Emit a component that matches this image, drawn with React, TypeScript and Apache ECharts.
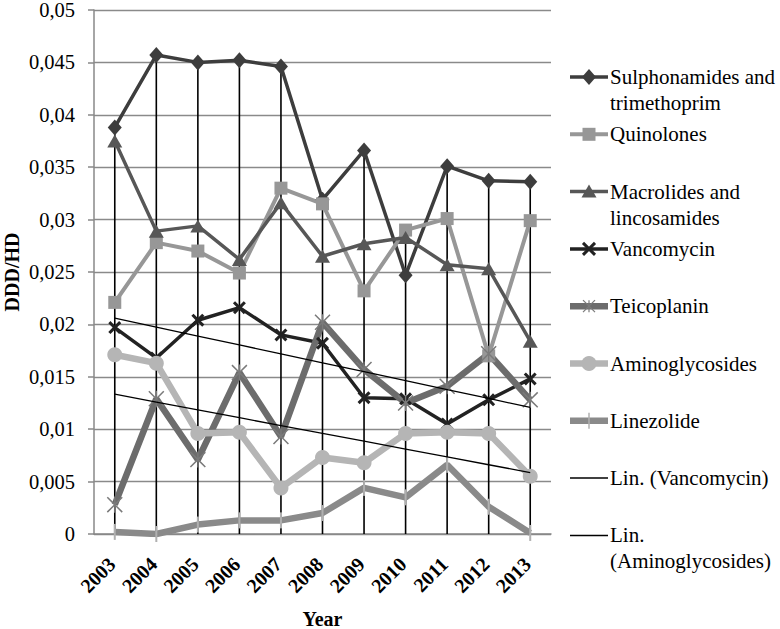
import React, { useEffect, useRef } from "react";
import * as echarts from "echarts";

const years = ["2003", "2004", "2005", "2006", "2007", "2008", "2009", "2010", "2011", "2012", "2013"];
const sulphonamides = [0.0388, 0.0457, 0.045, 0.0452, 0.0446, 0.0319, 0.0366, 0.0247, 0.0351, 0.0337, 0.0336];
const quinolones = [0.0221, 0.0278, 0.027, 0.0249, 0.033, 0.0315, 0.0232, 0.029, 0.0301, 0.017, 0.0299];
const macrolides = [0.0375, 0.0289, 0.0294, 0.0262, 0.0316, 0.0265, 0.0277, 0.0283, 0.0257, 0.0253, 0.0184];
const vancomycin = [0.0197, 0.0168, 0.0204, 0.0216, 0.019, 0.0182, 0.013, 0.0129, 0.0105, 0.0128, 0.0148];
const teicoplanin = [0.0028, 0.0129, 0.0071, 0.0154, 0.0093, 0.0202, 0.0157, 0.0125, 0.0141, 0.0172, 0.0128];
const aminoglycosides = [0.0171, 0.0163, 0.0096, 0.0097, 0.0044, 0.0073, 0.0068, 0.0096, 0.0097, 0.0096, 0.0055];
const linezolide = [0.0002, 0.0, 0.0009, 0.0013, 0.0013, 0.002, 0.0044, 0.0035, 0.0066, 0.0026, 0.0001];

const yTicks = [0, 0.005, 0.01, 0.015, 0.02, 0.025, 0.03, 0.035, 0.04, 0.045, 0.05];

const FONT = "'Liberation Serif', 'Times New Roman', serif";

const X_PATH = "path://M0,2 L2,0 L6,4 L10,0 L12,2 L8,6 L12,10 L10,12 L6,8 L2,12 L0,10 L4,6 Z";
const AST_PATH =
  "path://M0,0.8 L0.8,0 L6,5.2 L11.2,0 L12,0.8 L6.8,6 L12,11.2 L11.2,12 L6,6.8 L0.8,12 L0,11.2 L5.2,6 Z M5.5,0 L6.5,0 L6.5,12 L5.5,12 Z";
const BAR_PATH = "path://M0,0 L2,0 L2,16 L0,16 Z";

function linearTrend(values: number[]): number[] {
  const n = values.length;
  const mx = (n - 1) / 2;
  const my = values.reduce((a, b) => a + b, 0) / n;
  let sxy = 0;
  let sxx = 0;
  values.forEach((v, i) => {
    sxy += (i - mx) * (v - my);
    sxx += (i - mx) * (i - mx);
  });
  const slope = sxy / sxx;
  return values.map((_, i) => my + slope * (i - mx));
}

type Item = {
  name: string;
  label: string;
  data: number[];
  color: string;
  width: number;
  marker: string;
  markerColor?: string;
};

const items: Item[] = [
  { name: "Sulphonamides and trimethoprim", label: "Sulphonamides and\ntrimethoprim", data: sulphonamides, color: "#3d3d3d", width: 3.5, marker: "diamond" },
  { name: "Quinolones", label: "Quinolones", data: quinolones, color: "#979797", width: 4, marker: "rect" },
  { name: "Macrolides and lincosamides", label: "Macrolides and\nlincosamides", data: macrolides, color: "#575757", width: 3.5, marker: "triangle" },
  { name: "Vancomycin", label: "Vancomycin", data: vancomycin, color: "#222222", width: 3.5, marker: "x" },
  { name: "Teicoplanin", label: "Teicoplanin", data: teicoplanin, color: "#6c6c6c", width: 6.5, marker: "asterisk", markerColor: "#7a7a7a" },
  { name: "Aminoglycosides", label: "Aminoglycosides", data: aminoglycosides, color: "#b5b5b5", width: 6.5, marker: "circle" },
  { name: "Linezolide", label: "Linezolide", data: linezolide, color: "#8a8a8a", width: 6.5, marker: "bar", markerColor: "#b0b0b0" },
];

function seriesSymbol(m: string): { symbol: string; symbolSize: number | number[] } {
  switch (m) {
    case "diamond":
      return { symbol: "diamond", symbolSize: [14, 16] };
    case "rect":
      return { symbol: "rect", symbolSize: 13 };
    case "triangle":
      return { symbol: "triangle", symbolSize: [15, 13] };
    case "x":
      return { symbol: X_PATH, symbolSize: 13 };
    case "asterisk":
      return { symbol: AST_PATH, symbolSize: 16 };
    case "circle":
      return { symbol: "circle", symbolSize: 15 };
    default:
      return { symbol: BAR_PATH, symbolSize: [2, 16] };
  }
}

function legendMarker(m: string, cx: number, cy: number, color: string): any[] {
  switch (m) {
    case "diamond":
      return [{ type: "polygon", shape: { points: [[cx, cy - 8], [cx + 7, cy], [cx, cy + 8], [cx - 7, cy]] }, style: { fill: color } }];
    case "rect":
      return [{ type: "rect", shape: { x: cx - 6.5, y: cy - 6.5, width: 13, height: 13 }, style: { fill: color } }];
    case "triangle":
      return [{ type: "polygon", shape: { points: [[cx, cy - 7], [cx + 7.5, cy + 6], [cx - 7.5, cy + 6]] }, style: { fill: color } }];
    case "x":
      return [
        { type: "line", shape: { x1: cx - 6, y1: cy - 6, x2: cx + 6, y2: cy + 6 }, style: { stroke: color, lineWidth: 3 } },
        { type: "line", shape: { x1: cx - 6, y1: cy + 6, x2: cx + 6, y2: cy - 6 }, style: { stroke: color, lineWidth: 3 } },
      ];
    case "asterisk":
      return [
        { type: "line", shape: { x1: cx - 6, y1: cy - 6, x2: cx + 6, y2: cy + 6 }, style: { stroke: color, lineWidth: 1.2 } },
        { type: "line", shape: { x1: cx - 6, y1: cy + 6, x2: cx + 6, y2: cy - 6 }, style: { stroke: color, lineWidth: 1.2 } },
        { type: "line", shape: { x1: cx, y1: cy - 6, x2: cx, y2: cy + 6 }, style: { stroke: color, lineWidth: 1.2 } },
      ];
    case "circle":
      return [{ type: "circle", shape: { cx, cy, r: 7.5 }, style: { fill: color } }];
    case "bar":
      return [{ type: "line", shape: { x1: cx, y1: cy - 8, x2: cx, y2: cy + 8 }, style: { stroke: color, lineWidth: 1.5 } }];
    default:
      return [];
  }
}

export default function App() {
  const ref = useRef<HTMLDivElement>(null);

  useEffect(() => {
    if (!ref.current) return;
    const chart = echarts.init(ref.current, undefined, { renderer: "svg" });

    const trendV = linearTrend(vancomycin);
    const trendA = linearTrend(aminoglycosides);
    const dropTops = years.map((_, i) => Math.max(...items.map((it) => it.data[i])));

    const legendRows = [
      ...items.map((it) => ({ label: it.label, color: it.color, width: it.width, marker: it.marker, markerColor: it.markerColor || it.color })),
      { label: "Lin. (Vancomycin)", color: "#000", width: 1.5, marker: "none", markerColor: "#000" },
      { label: "Lin.\n(Aminoglycosides)", color: "#000", width: 1.5, marker: "none", markerColor: "#000" },
    ];

    const graphics: any[] = [];
    const lx0 = 570;
    const lx1 = 608;
    legendRows.forEach((r, i) => {
      const y = 77 + i * 57.3;
      graphics.push({
        type: "line",
        shape: { x1: lx0, y1: y, x2: lx1, y2: y },
        style: { stroke: r.color, lineWidth: r.width },
      });
      graphics.push(...legendMarker(r.marker, (lx0 + lx1) / 2, y, r.markerColor));
      const twoLines = r.label.indexOf("\n") >= 0;
      graphics.push({
        type: "text",
        x: 610,
        y: twoLines ? y - 13 : y,
        style: {
          text: r.label,
          font: `21px ${FONT}`,
          fill: "#000",
          lineHeight: 26,
          verticalAlign: twoLines ? "top" : "middle",
          align: "left",
        },
      });
    });

    const series: any[] = [
      {
        name: "drop",
        type: "bar",
        data: dropTops,
        barWidth: 1.6,
        itemStyle: { color: "#000" },
        z: 1,
        silent: true,
      },
      ...items.map((it) => ({
        name: it.name,
        type: "line",
        data: it.data,
        ...seriesSymbol(it.marker),
        showSymbol: true,
        lineStyle: { color: it.color, width: it.width },
        itemStyle: { color: it.markerColor || it.color },
        z: 2,
      })),
      {
        name: "Lin. (Vancomycin)",
        type: "line",
        data: trendV,
        symbol: "none",
        lineStyle: { color: "#000", width: 1.3 },
        z: 3,
      },
      {
        name: "Lin. (Aminoglycosides)",
        type: "line",
        data: trendA,
        symbol: "none",
        lineStyle: { color: "#000", width: 1.3 },
        z: 3,
      },
    ];

    chart.setOption({
      animation: false,
      textStyle: { fontFamily: FONT },
      grid: { left: 94, right: 229, top: 10, bottom: 95, containLabel: false, outerBoundsMode: "none" },
      xAxis: {
        type: "category",
        data: years,
        boundaryGap: true,
        name: "Year",
        nameLocation: "middle",
        nameGap: 85,
        nameMoveOverlap: false,
        nameTextStyle: { fontFamily: FONT, fontWeight: "bold", fontSize: 20, color: "#000", lineHeight: 15, verticalAlign: "middle" },
        axisLine: { show: true, lineStyle: { color: "#888", width: 1.5 } },
        axisTick: { show: false },
        axisLabel: {
          interval: 0,
          rotate: 45,
          margin: 24,
          padding: [0, 4, 0, 0],
          fontFamily: FONT,
          fontWeight: "bold",
          fontSize: 20,
          color: "#000",
        },
        splitLine: { show: false },
      },
      yAxis: {
        type: "value",
        min: 0,
        max: 0.05,
        interval: 0.005,
        name: "DDD/HD",
        nameLocation: "middle",
        nameGap: 72,
        nameRotate: 90,
        nameMoveOverlap: false,
        nameTextStyle: { fontFamily: FONT, fontWeight: "bold", fontSize: 20, color: "#000" },
        axisLine: { show: true, lineStyle: { color: "#888", width: 1.5 } },
        axisTick: { show: true, length: 6, lineStyle: { color: "#888", width: 1.5 } },
        axisLabel: {
          margin: 19,
          fontFamily: FONT,
          fontSize: 20.5,
          lineHeight: 15,
          color: "#000",
          formatter: (v: number) => {
            const t = yTicks.find((k) => Math.abs(k - v) < 1e-9);
            const val = t !== undefined ? t : v;
            return String(parseFloat(val.toFixed(3))).replace(".", ",");
          },
        },
        splitLine: { show: true, lineStyle: { color: "#8a8a8a", width: 1.4 } },
      },
      series,
      graphic: graphics,
    });

    return () => chart.dispose();
  }, []);

  return (
    <div
      ref={ref}
      style={{ position: "absolute", left: 0, top: 0, width: 780, height: 629, background: "#fff" }}
    />
  );
}
